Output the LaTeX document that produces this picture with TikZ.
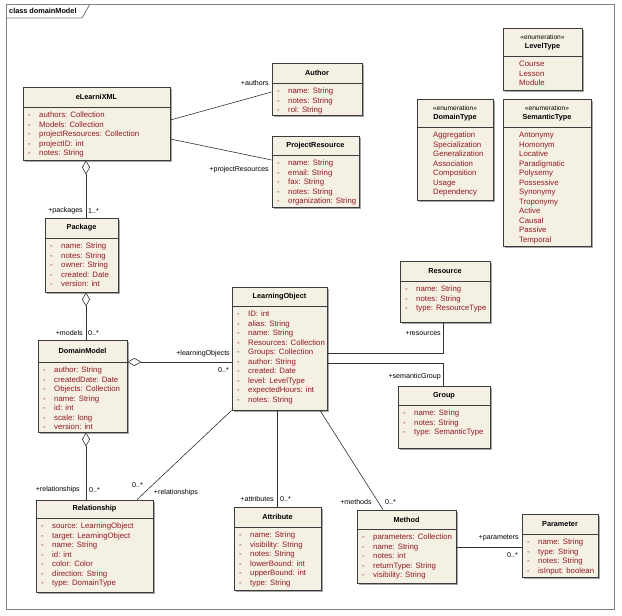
\documentclass[tikz,border=0pt]{standalone}
\usepackage{fontspec}
\setmainfont{Liberation Sans}
\usetikzlibrary{arrows.meta,shadows,fit,calc}
\definecolor{boxfill}{RGB}{245,240,228}
\definecolor{boxline}{RGB}{60,60,60}
\definecolor{attrred}{RGB}{145,25,35}
\definecolor{framegray}{RGB}{130,130,130}
\definecolor{conn}{RGB}{50,50,50}
\tikzset{
  classbox/.style={draw=boxline, line width=0.8pt, fill=boxfill, inner sep=0pt,
    drop shadow={shadow xshift=1.6pt, shadow yshift=-1.6pt, opacity=0.35, fill=black}},
  sepline/.style={draw=boxline, line width=0.7pt},
  titletext/.style={inner sep=0pt, font=\fontsize{7.3}{9}\selectfont\bfseries, align=center, text=black},
  attrtext/.style={inner sep=0pt, font=\fontsize{7.8}{9.5}\selectfont, text=attrred},
  lbl/.style={inner sep=0pt, font=\fontsize{7.1}{8}\selectfont, text=black},
  assoc/.style={draw=conn, line width=0.6pt},
  agg/.style={draw=conn, line width=0.6pt, {Diamond[fill=white, length=14pt, width=8pt, line width=0.6pt]}-},
}
\newcommand\ty{:\hspace{3pt}}
\newcommand\rw[1]{-&#1\\}
\newcommand\umlbox[7]{%
  \node[classbox, fit={(#2,#3) (#4,#5)}] (#1) {};
  \draw[sepline] (#1.west |- 0,#6) -- (#1.east |- 0,#6);
  \node[titletext] (#1-title) at ($(#2,#3)!0.5!(#4,#6)$) {#7};}
\newcommand\umlattrs[4]{%
  \node[attrtext, anchor=base west] (#1-attrs) at (#2+5,#3+10.5)
    {\begin{tabular}[t]{@{}p{11pt}@{}l@{}}#4\end{tabular}};}
\newcommand\umlenum[4]{%
  \node[attrtext, anchor=base west] (#1-items) at (#2+16,#3+10.5)
    {\begin{tabular}[t]{@{}l@{}}#4\end{tabular}};}
\newcommand\enumhead[1]{{\fontsize{6.6}{9}\selectfont\mdseries «enumeration»}\\#1}
\begin{document}
\begin{tikzpicture}[x=1pt,y=-1pt]
\useasboundingbox[fill=white] (0,0) rectangle (622,616);
% frame
\draw[framegray, line width=0.9pt] (6,4) rectangle (614,609);
\draw[framegray, line width=0.9pt] (6,18) -- (82,18) -- (90,4);
\node[anchor=west, inner sep=0pt, font=\fontsize{7.3}{9}\selectfont\bfseries] (frametitle) at (9,11) {class domainModel};

% classes
\umlbox{eL}{23}{87}{170}{160}{107}{eLearniXML}
\umlattrs{eL}{23}{107}{\rw{authors\ty Collection}\rw{Models\ty Collection}\rw{projectResources\ty Collection}\rw{projectID\ty int}\rw{notes\ty String}}

\umlbox{au}{272}{63}{362}{115}{83}{Author}
\umlattrs{au}{272}{83}{\rw{name\ty String}\rw{notes\ty String}\rw{rol\ty String}}

\umlbox{pr}{272}{136}{359}{207}{155}{ProjectResource}
\umlattrs{pr}{272}{155}{\rw{name\ty String}\rw{email\ty String}\rw{fax\ty String}\rw{notes\ty String}\rw{organization\ty String}}

\umlbox{lt}{503}{28}{582}{90}{56}{\enumhead{LevelType}}
\umlenum{lt}{503}{56}{Course\\Lesson\\Module}

\umlbox{dt}{417}{99}{493}{200}{127}{\enumhead{DomainType}}
\umlenum{dt}{417}{127}{Aggregation\\Specialization\\Generalization\\Association\\Composition\\Usage\\Dependency}

\umlbox{st}{503}{99}{591}{246}{127}{\enumhead{SemanticType}}
\umlenum{st}{503}{127}{Antonymy\\Homonym\\Locative\\Paradigmatic\\Polysemy\\Possessive\\Synonymy\\Troponymy\\Active\\Causal\\Passive\\Temporal}

\umlbox{pk}{45}{218}{118}{292}{238}{Package}
\umlattrs{pk}{45}{238}{\rw{name\ty String}\rw{notes\ty String}\rw{owner\ty String}\rw{created\ty Date}\rw{version\ty int}}

\umlbox{dm}{38}{340}{127}{432}{362}{DomainModel}
\umlattrs{dm}{38}{362}{\rw{author\ty String}\rw{createdDate\ty Date}\rw{Objects\ty Collection}\rw{name\ty String}\rw{id\ty int}\rw{scale\ty long}\rw{version\ty int}}

\umlbox{lo}{232}{287}{327}{410}{306}{LearningObject}
\umlattrs{lo}{232}{306}{\rw{ID\ty int}\rw{alias\ty String}\rw{name\ty String}\rw{Resources\ty Collection}\rw{Groups\ty Collection}\rw{author\ty String}\rw{created\ty Date}\rw{level\ty LevelType}\rw{expectedHours\ty int}\rw{notes\ty String}}

\umlbox{rs}{400}{261}{490}{322}{281}{Resource}
\umlattrs{rs}{400}{281}{\rw{name\ty String}\rw{notes\ty String}\rw{type\ty ResourceType}}

\umlbox{gr}{398}{386}{490}{448}{405}{Group}
\umlattrs{gr}{398}{405}{\rw{name\ty String}\rw{notes\ty String}\rw{type\ty SemanticType}}

\umlbox{rl}{36}{500}{153}{592}{518}{Relationship}
\umlattrs{rl}{36}{518}{\rw{source\ty LearningObject}\rw{target\ty LearningObject}\rw{name\ty String}\rw{id\ty int}\rw{color\ty Color}\rw{direction\ty String}\rw{type\ty DomainType}}

\umlbox{at}{234}{507}{321}{590}{527}{Attribute}
\umlattrs{at}{234}{527}{\rw{name\ty String}\rw{visibility\ty String}\rw{notes\ty String}\rw{lowerBound\ty int}\rw{upperBound\ty int}\rw{type\ty String}}

\umlbox{me}{357}{510}{456}{583}{529}{Method}
\umlattrs{me}{357}{529}{\rw{parameters\ty Collection}\rw{name\ty String}\rw{notes\ty int}\rw{returnType\ty String}\rw{visibility\ty String}}

\umlbox{pa}{522}{514}{598}{577}{534}{Parameter}
\umlattrs{pa}{522}{534}{\rw{name\ty String}\rw{type\ty String}\rw{notes\ty String}\rw{isInput\ty boolean}}

% connectors
\draw[assoc] (eL.east |- 0,120) -- (au.west |- 0,92);
\node[lbl, anchor=east] (l-authors) at (269,83) {+authors};
\draw[assoc] (eL.east |- 0,139) -- (pr.west |- 0,160);
\node[lbl, anchor=east] (l-projres) at (269,170) {+projectResources};

\draw[agg] (86,0 |- eL.south) -- (86,0 |- pk.north);
\node[lbl, anchor=east] (l-pkg) at (83,211) {+packages};
\node[lbl, anchor=west] (m-pkg) at (88,211) {1..*};

\draw[agg] (86,0 |- pk.south) -- (86,0 |- dm.north);
\node[lbl, anchor=east] (l-models) at (83,333) {+models};
\node[lbl, anchor=west] (m-models) at (88,333) {0..*};

\draw[agg] (dm.east |- 0,362) -- (lo.west |- 0,362);
\node[lbl, anchor=east] (l-lo) at (230,354) {+learningObjects};
\node[lbl, anchor=east] (m-lo) at (229,370) {0..*};

\draw[agg] (86,0 |- dm.south) -- (86,0 |- rl.north);
\node[lbl, anchor=east] (l-rel1) at (80,490) {+relationships};
\node[lbl, anchor=west] (m-rel1) at (89,490) {0..*};

\draw[assoc] (lo.south west) -- (137,0 |- rl.north);
\node[lbl] (m-rel2) at (137.5,485) {0..*};
\node[lbl] (l-rel2) at (176,493) {+relationships};

\draw[assoc] (lo.east |- 0,353) -| (rs.south -| 443,0);
\node[lbl, anchor=east] (l-res) at (441,333) {+resources};
\draw[assoc] (lo.east |- 0,363) -| (gr.north -| 443,0);
\node[lbl, anchor=east] (l-grp) at (441,377) {+semanticGroup};

\draw[assoc] (277,0 |- lo.south) -- (277,0 |- at.north);
\node[lbl, anchor=east] (l-attr) at (274,499) {+attributes};
\node[lbl, anchor=west] (m-attr) at (280,499) {0..*};

\draw[assoc] (320,0 |- lo.south) -- (383,0 |- me.north);
\node[lbl] (l-meth) at (356,502) {+methods};
\node[lbl, anchor=west] (m-meth) at (385,502) {0..*};

\draw[assoc] (me.east |- 0,547) -- (pa.west |- 0,547);
\node[lbl, anchor=east] (l-par) at (519,538) {+parameters};
\node[lbl, anchor=east] (m-par) at (518,555) {0..*};
\end{tikzpicture}
\end{document}
